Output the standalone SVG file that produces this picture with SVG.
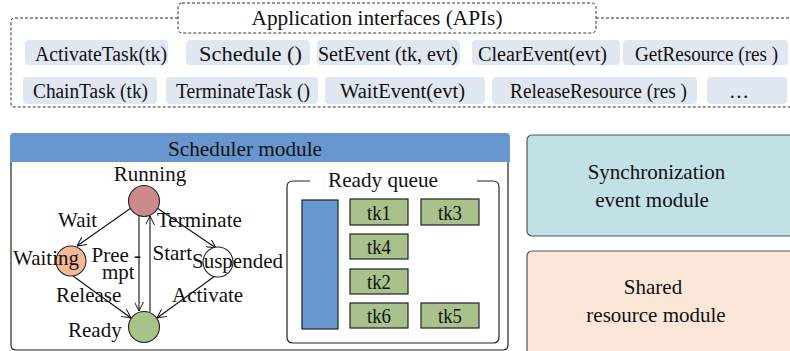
<svg xmlns="http://www.w3.org/2000/svg" width="790" height="351" viewBox="0 0 790 351">
<style>
text{font-family:"Liberation Serif","Times New Roman",serif;font-size:21px;fill:#111;}
.mid{text-anchor:middle;}
.pt{font-size:20px;text-anchor:middle;}
.tk{font-size:20px;text-anchor:middle;}
.dash{fill:none;stroke:#333;stroke-width:1;stroke-dasharray:3,2;}
.pill{fill:#e1e7f0;}
.edge{fill:none;stroke:#111;stroke-width:1.1;}
.task{fill:#a9c18b;stroke:#222;stroke-width:1.2;}
.st{stroke:#222;stroke-width:1.1;}
</style>
<defs>
<marker id="arr" viewBox="0 0 10 10" refX="10" refY="5" markerWidth="9" markerHeight="9" orient="auto" markerUnits="userSpaceOnUse">
<path d="M0,0 L10,5 L0,10" fill="none" stroke="#111" stroke-width="1.1"/>
</marker>
</defs>

<g id="api-frame">
<path class="dash" d="M178,18 H14 Q11,18 11,22 V104 Q11,107 14,107 H790"/>
<path class="dash" d="M596,18 H790"/>
<rect class="dash" x="178" y="3" width="418" height="30" rx="4"/>
<text class="mid" x="377" y="25" textLength="251" lengthAdjust="spacingAndGlyphs">Application interfaces (APIs)</text>
</g>

<g id="api-activate"><rect class="pill" x="25" y="40" width="143" height="25" rx="4"/><text class="pt" x="101" y="61" textLength="132" lengthAdjust="spacingAndGlyphs">ActivateTask(tk)</text></g>
<g id="api-schedule"><rect class="pill" x="186" y="40" width="124" height="25" rx="4"/><text class="pt" x="250.5" y="61" textLength="103" lengthAdjust="spacingAndGlyphs">Schedule ()</text></g>
<g id="api-setevent"><rect class="pill" x="317" y="40" width="143" height="25" rx="4"/><text class="pt" x="388" y="61" textLength="140" lengthAdjust="spacingAndGlyphs">SetEvent (tk, evt)</text></g>
<g id="api-clearevent"><rect class="pill" x="472" y="40" width="148" height="25" rx="4"/><text class="pt" x="542.5" y="61" textLength="129" lengthAdjust="spacingAndGlyphs">ClearEvent(evt)</text></g>
<g id="api-getresource"><rect class="pill" x="623" y="40" width="165" height="25" rx="4"/><text class="pt" x="706.5" y="61" textLength="143" lengthAdjust="spacingAndGlyphs">GetResource (res )</text></g>

<g id="api-chaintask"><rect class="pill" x="23" y="77" width="134" height="27" rx="4"/><text class="pt" x="90.5" y="98" textLength="115" lengthAdjust="spacingAndGlyphs">ChainTask (tk)</text></g>
<g id="api-terminatetask"><rect class="pill" x="166" y="77" width="152" height="27" rx="4"/><text class="pt" x="243" y="98" textLength="134" lengthAdjust="spacingAndGlyphs">TerminateTask ()</text></g>
<g id="api-waitevent"><rect class="pill" x="325" y="77" width="160" height="27" rx="4"/><text class="pt" x="402.5" y="98" textLength="125" lengthAdjust="spacingAndGlyphs">WaitEvent(evt)</text></g>
<g id="api-releaseresource"><rect class="pill" x="492" y="77" width="205" height="27" rx="4"/><text class="pt" x="598.5" y="98" textLength="177" lengthAdjust="spacingAndGlyphs">ReleaseResource (res )</text></g>
<g id="api-more"><rect class="pill" x="707" y="77" width="80" height="27" rx="4"/><text class="pt" x="739" y="98">…</text></g>

<g id="scheduler-module">
<path d="M11,162 V345 Q11,350 16,350 H503 Q508,350 508,345 V162" fill="#fff" stroke="#222" stroke-width="1.2"/>
<path d="M10,162 V137 Q10,133 14,133 H506 Q510,133 510,137 V162 Z" fill="#6797ce"/>
<text class="mid" x="245" y="156" textLength="154" lengthAdjust="spacingAndGlyphs">Scheduler module</text>
</g>

<g id="ready-queue">
<path d="M310,181 H293 Q287,181 287,187 V337 Q287,343 293,343 H493 Q499,343 499,337 V187 Q499,181 493,181 H477" fill="none" stroke="#222" stroke-width="1.2"/>
<text class="mid" x="383" y="187" textLength="110" lengthAdjust="spacingAndGlyphs">Ready queue</text>
<rect x="302" y="200" width="36" height="129" fill="#6797ce" stroke="#222" stroke-width="1.2"/>
</g>
<g id="tk1"><rect class="task" x="350" y="199" width="58" height="26"/><text class="tk" x="379" y="220" textLength="24" lengthAdjust="spacingAndGlyphs">tk1</text></g>
<g id="tk3"><rect class="task" x="421" y="199" width="58" height="26"/><text class="tk" x="450" y="220" textLength="24" lengthAdjust="spacingAndGlyphs">tk3</text></g>
<g id="tk4"><rect class="task" x="350" y="234" width="58" height="25"/><text class="tk" x="379" y="254" textLength="24" lengthAdjust="spacingAndGlyphs">tk4</text></g>
<g id="tk2"><rect class="task" x="350" y="269" width="58" height="25"/><text class="tk" x="379" y="289" textLength="24" lengthAdjust="spacingAndGlyphs">tk2</text></g>
<g id="tk6"><rect class="task" x="350" y="303" width="58" height="25"/><text class="tk" x="379" y="323" textLength="24" lengthAdjust="spacingAndGlyphs">tk6</text></g>
<g id="tk5"><rect class="task" x="421" y="303" width="58" height="25"/><text class="tk" x="450" y="323" textLength="24" lengthAdjust="spacingAndGlyphs">tk5</text></g>

<g id="connectors">
<line class="edge" x1="131" y1="208" x2="77" y2="246" marker-end="url(#arr)"/>
<line class="edge" x1="157" y1="208" x2="216" y2="248" marker-end="url(#arr)"/>
<line class="edge" x1="73" y1="276" x2="131" y2="318" marker-end="url(#arr)"/>
<line class="edge" x1="215" y1="276" x2="157" y2="318" marker-end="url(#arr)"/>
<line class="edge" x1="139" y1="215" x2="139" y2="311" marker-end="url(#arr)" stroke="#555" stroke-width="1.4"/>
<line class="edge" x1="150" y1="312" x2="150" y2="216" marker-end="url(#arr)"/>
</g>

<g id="running"><circle class="st" cx="144" cy="201" r="15.5" fill="#cd8a8c"/><text class="mid" x="150" y="181">Running</text></g>
<g id="waiting"><circle class="st" cx="71" cy="261" r="15" fill="#f4b995"/><text x="13" y="265">Waiting</text></g>
<g id="suspended"><circle class="st" cx="218" cy="262" r="15" fill="#fff"/><text x="192" y="268">Suspended</text></g>
<g id="ready"><circle class="st" cx="144" cy="327" r="15.5" fill="#a9c18b"/><text x="68" y="337">Ready</text></g>

<g id="edge-labels">
<text x="58" y="227">Wait</text>
<text x="157" y="227">Terminate</text>
<text x="91.5" y="262">Pree -<tspan x="102" y="279">mpt</tspan></text>
<text x="152.5" y="260">Start</text>
<text x="56" y="302">Release</text>
<text x="172" y="302">Activate</text>
</g>

<g id="sync-module"><rect x="527" y="135" width="270" height="101" rx="5" fill="#c1e1e7" stroke="#555" stroke-width="1.2"/><text class="mid" x="656.5" y="179">Synchronization</text><text class="mid" x="652" y="207">event module</text></g>
<g id="shared-module"><rect x="527" y="251" width="270" height="110" rx="5" fill="#fbe6d8" stroke="#555" stroke-width="1.2"/><text class="mid" x="653" y="294">Shared</text><text class="mid" x="656" y="322">resource module</text></g>
</svg>
